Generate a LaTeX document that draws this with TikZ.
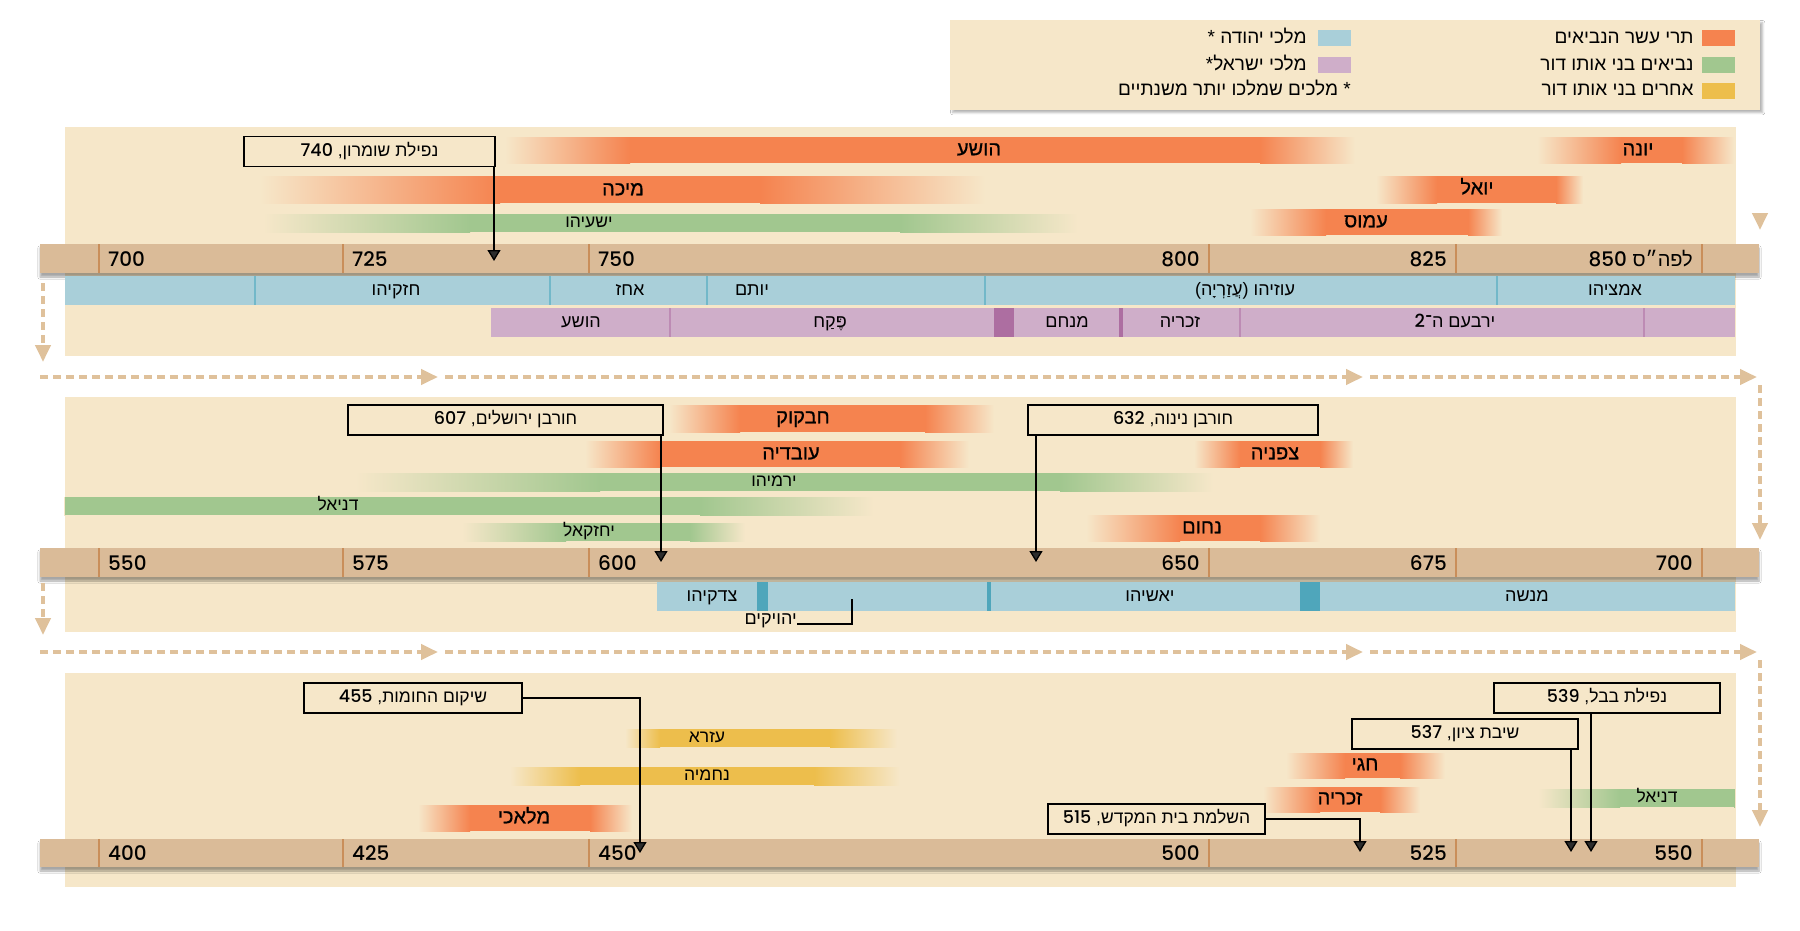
\documentclass[tikz,border=0pt]{standalone}
\usepackage{fontspec}
\setmainfont{Liberation Sans}[Script=Hebrew]
\newfontfamily\numfont{Poppins}[UprightFont={* Medium}]
\newfontfamily\heavyfont{Liberation Sans}[Script=Hebrew, FakeBold=0.7]
\TeXXeTstate=1
\usetikzlibrary{arrows.meta,positioning,shadows,shadows.blur}

\definecolor{bgc}{HTML}{F6E7C9}
\definecolor{axisc}{HTML}{DABB98}
\definecolor{tickc}{HTML}{C98E5A}
\definecolor{judahc}{HTML}{A9CFD9}
\definecolor{judahdk}{HTML}{4FA6BB}
\definecolor{israelc}{HTML}{CFAEC9}
\definecolor{israeldk}{HTML}{AD6EA1}
\definecolor{minorc}{HTML}{F5834F}
\definecolor{seerc}{HTML}{A1C78F}
\definecolor{otherc}{HTML}{EDBE4C}
\definecolor{flowc}{HTML}{DFC19B}

\newcommand{\heb}[1]{\beginR#1\endR}
\newcommand{\yr}[1]{\beginL{\numfont#1}\endL}
% bar: colour, top, bottom, fade start, solid start, solid end, fade end
\newcommand{\pbar}[7]{%
  \shade[left color=bgc, right color=#1] (#4,#2) rectangle (#5,#3);
  \fill[#1] (#5-0.5,#2) rectangle (#6+0.5,#3);
  \shade[left color=#1, right color=bgc] (#6,#2) rectangle (#7,#3);}

\begin{document}
\begin{tikzpicture}[x=1pt, y=-1pt,
    prophet/.style={font=\heavyfont\fontsize{20}{20}\selectfont, inner sep=0pt, text height=10.5pt, text depth=0pt},
    seer/.style={font=\fontsize{17.5}{17.5}\selectfont, inner sep=0pt, text height=9.2pt, text depth=0pt},
    king/.style={font=\fontsize{18}{18}\selectfont, inner sep=0pt, text height=9.5pt, text depth=0pt},
    yearlbl/.style={font=\numfont\fontsize{20}{20}\selectfont, inner sep=0pt, text height=14pt, text depth=0pt},
    event/.style={draw, line width=1.6pt, fill=bgc, inner sep=0pt, minimum height=30pt,
      font=\fontsize{17.5}{17.5}\selectfont, text height=9.2pt, text depth=0pt},
    evarrow/.style={line width=1.3pt, -{Triangle[width=13pt, length=11pt]}},
    tickln/.style={tickc, line width=1.5pt},
    flow/.style={flowc, line width=4pt, dash pattern=on 8pt off 5pt, -{Triangle[width=15pt, length=17pt]}},
    legtxt/.style={font=\fontsize{19}{19}\selectfont, inner sep=0pt, text height=10pt, text depth=0pt},
    legkey/.style={minimum width=33pt, minimum height=16pt, inner sep=0pt}
  ]
  \fill[white] (0,0) rectangle (1800,930);
  \useasboundingbox (0,0) rectangle (1800,930);

  % legend
  \node[fill=bgc, blur shadow={shadow blur steps=6, shadow opacity=30}, minimum width=810pt, minimum height=90pt, inner sep=0pt] (legend) at (1355,65) {};
  \node[legkey, fill=minorc] (kminor) at (1718.5,38) {};
  \node[legkey, fill=seerc] (kseer) at (1718.5,65) {};
  \node[legkey, fill=otherc] (kother) at (1718.5,90.5) {};
  \node[legkey, fill=judahc] (kjudah) at (1334.5,38) {};
  \node[legkey, fill=israelc] (kisrael) at (1334.5,65) {};
  \node[legtxt, left=8pt of kminor] (tminor) {\heb{תרי עשר הנביאים}};
  \node[legtxt, left=8pt of kseer] (tseer) {\heb{נביאים בני אותו דור}};
  \node[legtxt, left=8pt of kother] (tother) {\heb{אחרים בני אותו דור}};
  \node[legtxt, left=11pt of kjudah] (tjudah) {\heb{מלכי יהודה *}};
  \node[legtxt, left=11pt of kisrael] (tisrael) {\heb{מלכי ישראל\kern0pt*}};
  \node[legtxt, anchor=east] (tnote) at (1351,90.5) {\heb{* מלכים שמלכו יותר משנתיים}};

  % panels
  \fill[bgc] (65,127) rectangle (1736,356);
  \fill[bgc] (65,397) rectangle (1736,632);
  \fill[bgc] (65,673) rectangle (1736,887);

  % panel 1 bars
  \pbar{minorc}{137}{163}{505}{630}{1260}{1355}
  \pbar{minorc}{137}{163}{1537}{1621}{1682}{1734}
  \pbar{minorc}{176}{203}{260}{500}{760}{985}
  \pbar{minorc}{176}{203}{1376}{1437}{1556}{1583}
  \pbar{seerc}{214}{232}{263}{470}{900}{1078}
  \pbar{minorc}{209}{235}{1250}{1326}{1468}{1502}
  % panel 2 bars
  \pbar{minorc}{405}{432}{669}{740}{925}{994}
  \pbar{minorc}{441}{467}{585}{660}{900}{969}
  \pbar{minorc}{441}{467}{1194}{1240}{1320}{1353}
  \pbar{seerc}{473}{491}{355}{600}{1060}{1213}
  \pbar{seerc}{497}{515}{64}{65}{700}{874}
  \pbar{seerc}{523}{541}{462}{566}{690}{745}
  \pbar{minorc}{515}{541}{1086}{1180}{1260}{1320}
  % panel 3 bars
  \pbar{otherc}{729}{747}{625}{660}{830}{897}
  \pbar{otherc}{767}{785}{510}{580}{814}{900}
  \pbar{minorc}{805}{831}{418}{470}{590}{632}
  \pbar{minorc}{753}{778}{1286}{1345}{1400}{1445}
  \pbar{minorc}{787}{812}{1263}{1320}{1380}{1420}
  \pbar{seerc}{789}{807}{1538}{1620}{1734}{1735}

  % time axes
  \foreach \ya/\yb in {244/273, 548/577, 839/867} {
    \fill[axisc, blur shadow={shadow xshift=0pt, shadow yshift=-4pt, shadow opacity=35, shadow blur steps=6}] (40,\ya) rectangle (1759,\yb);
    \foreach \t in {99,343,589,1209,1456,1702}
      \draw[tickln] (\t,\ya) -- (\t,\yb);
  }
  \node[yearlbl, anchor=west] (y700) at (108,259) {700};
  \node[yearlbl, anchor=west] (y725) at (352,259) {725};
  \node[yearlbl, anchor=west] (y750) at (598,259) {750};
  \node[yearlbl, anchor=east] (y800) at (1200,259) {800};
  \node[yearlbl, anchor=east] (y825) at (1447,259) {825};
  \node[yearlbl, font=\fontsize{20}{20}\selectfont, anchor=east] (y850) at (1693,259) {\heb{לפה״ס \yr{850}}};
  \node[yearlbl, anchor=west] (y550) at (108,563) {550};
  \node[yearlbl, anchor=west] (y575) at (352,563) {575};
  \node[yearlbl, anchor=west] (y600) at (598,563) {600};
  \node[yearlbl, anchor=east] (y650) at (1200,563) {650};
  \node[yearlbl, anchor=east] (y675) at (1447,563) {675};
  \node[yearlbl, anchor=east] (y700b) at (1693,563) {700};
  \node[yearlbl, anchor=west] (y400) at (108,853) {400};
  \node[yearlbl, anchor=west] (y425) at (352,853) {425};
  \node[yearlbl, anchor=west] (y450) at (598,853) {450};
  \node[yearlbl, anchor=east] (y500) at (1200,853) {500};
  \node[yearlbl, anchor=east] (y525) at (1447,853) {525};
  \node[yearlbl, anchor=east] (y550b) at (1693,853) {550};

  % kings of Judah and Israel
  \fill[judahc] (65,276) rectangle (1735,305);
  \foreach \d in {255,550,707,985,1497}
    \draw[judahdk!80, line width=1.5pt] (\d,276) -- (\d,305);
  \fill[israelc] (491,308) rectangle (1735,337);
  \foreach \d in {670,1240,1644}
    \draw[israeldk!80, line width=1.5pt] (\d,308) -- (\d,337);
  \fill[israeldk] (994,308) rectangle (1014,337);
  \fill[israeldk] (1119,308) rectangle (1123,337);
  \fill[judahc] (657,582) rectangle (1735,611);
  \fill[judahdk] (757,582) rectangle (768,611);
  \fill[judahdk] (987,582) rectangle (991,611);
  \fill[judahdk] (1300,582) rectangle (1320,611);

  \node[king] (hezekiah) at (396,291) {\heb{חזקיהו}};
  \node[king] (ahaz) at (630,291) {\heb{אחז}};
  \node[king] (jotham) at (752,291) {\heb{יותם}};
  \node[king] (uzziah) at (1245,291) {\heb{עוזיהו (עֲזַרְיָה)}};
  \node[king] (amaziah) at (1615,291) {\heb{אמציהו}};
  \node[king] (hoshea) at (581,323) {\heb{הושע}};
  \node[king] (pekah) at (830,323) {\heb{פֶּקַח}};
  \node[king] (menahem) at (1067,323) {\heb{מנחם}};
  \node[king] (zechariahk) at (1180,323) {\heb{זכריה}};
  \node[king] (jeroboam) at (1455,323) {\heb{ירבעם ה־\yr{2}}};
  \node[king] (zedekiah) at (712,597) {\heb{צדקיהו}};
  \node[king] (josiah) at (1150,597) {\heb{יאשיהו}};
  \node[king] (manasseh) at (1527,597) {\heb{מנשה}};
  \node[king, anchor=base east] (jehoiakim) at (797,624) {\heb{יהויקים}};
  \coordinate (jhk) at (852,599);
  \draw[line width=1.1pt] (jhk) |- (jehoiakim.base east);

  % prophets
  \node[prophet] (hosea) at (979,150) {\heb{הושע}};
  \node[prophet] (jonah) at (1638,150) {\heb{יונה}};
  \node[prophet] (micah) at (623,190) {\heb{מיכה}};
  \node[prophet] (joel) at (1477,189) {\heb{יואל}};
  \node[seer] (isaiah) at (589,223) {\heb{ישעיהו}};
  \node[prophet] (amos) at (1366,222) {\heb{עמוס}};
  \node[prophet] (habakkuk) at (803,418) {\heb{חבקוק}};
  \node[prophet] (obadiah) at (791,454) {\heb{עובדיה}};
  \node[prophet] (zephaniah) at (1275,454) {\heb{צפניה}};
  \node[seer] (jeremiah) at (774,482) {\heb{ירמיהו}};
  \node[seer] (daniel) at (338,506) {\heb{דניאל}};
  \node[seer] (ezekiel) at (589,532) {\heb{יחזקאל}};
  \node[prophet] (nahum) at (1202,528) {\heb{נחום}};
  \node[seer] (ezra) at (707,738) {\heb{עזרא}};
  \node[seer] (nehemiah) at (707,776) {\heb{נחמיה}};
  \node[prophet] (malachi) at (524,818) {\heb{מלאכי}};
  \node[prophet] (haggai) at (1365,765) {\heb{חגי}};
  \node[prophet] (zechariah) at (1340,799) {\heb{זכריה}};
  \node[seer] (danielb) at (1657,798) {\heb{דניאל}};

  % events
  \node[event, minimum width=251pt] (samaria) at (369.5,151.5) {\heb{נפילת שומרון\kern0pt, \yr{740}}};
  \node[event, minimum width=315pt] (jerusalem) at (505.5,420) {\heb{חורבן ירושלים\kern0pt, \yr{607}}};
  \node[event, minimum width=290pt] (nineveh) at (1173,420) {\heb{חורבן נינוה\kern0pt, \yr{632}}};
  \node[event, minimum width=218pt] (walls) at (413,698) {\heb{שיקום החומות\kern0pt, \yr{455}}};
  \node[event, minimum width=217pt] (temple) at (1156.5,819) {\heb{השלמת בית המקדש\kern0pt, \yr{515}}};
  \node[event, minimum width=226pt] (babylon) at (1607,698) {\heb{נפילת בבל\kern0pt, \yr{539}}};
  \node[event, minimum width=226pt] (zion) at (1465,734) {\heb{שיבת ציון\kern0pt, \yr{537}}};
  \coordinate (t740) at (494,261);
  \coordinate (t607) at (661,562);
  \coordinate (t632) at (1036,562);
  \coordinate (t455) at (640,853);
  \coordinate (t515) at (1360,852);
  \coordinate (t539) at (1591,852);
  \coordinate (t537) at (1571,852);
  \draw[evarrow] (samaria.south -| t740) -- (t740);
  \draw[evarrow] (jerusalem.south -| t607) -- (t607);
  \draw[evarrow] (nineveh.south -| t632) -- (t632);
  \draw[evarrow] (walls.east) -| (t455);
  \draw[evarrow] (temple.east) -| (t515);
  \draw[evarrow] (babylon.south -| t539) -- (t539);
  \draw[evarrow] (zion.south -| t537) -- (t537);

  % reading direction
  \draw[flow] (1760,213) -- (1760,230);
  \draw[flow] (43,283) -- (43,362);
  \foreach \yy in {377,652} {
    \draw[flow] (40,\yy) -- (438,\yy);
    \draw[flow] (445,\yy) -- (1363,\yy);
    \draw[flow] (1370,\yy) -- (1757,\yy);
  }
  \draw[flow] (1760,385) -- (1760,540);
  \draw[flow] (43,583) -- (43,635);
  \draw[flow] (1760,660) -- (1760,827);
\end{tikzpicture}
\end{document}
